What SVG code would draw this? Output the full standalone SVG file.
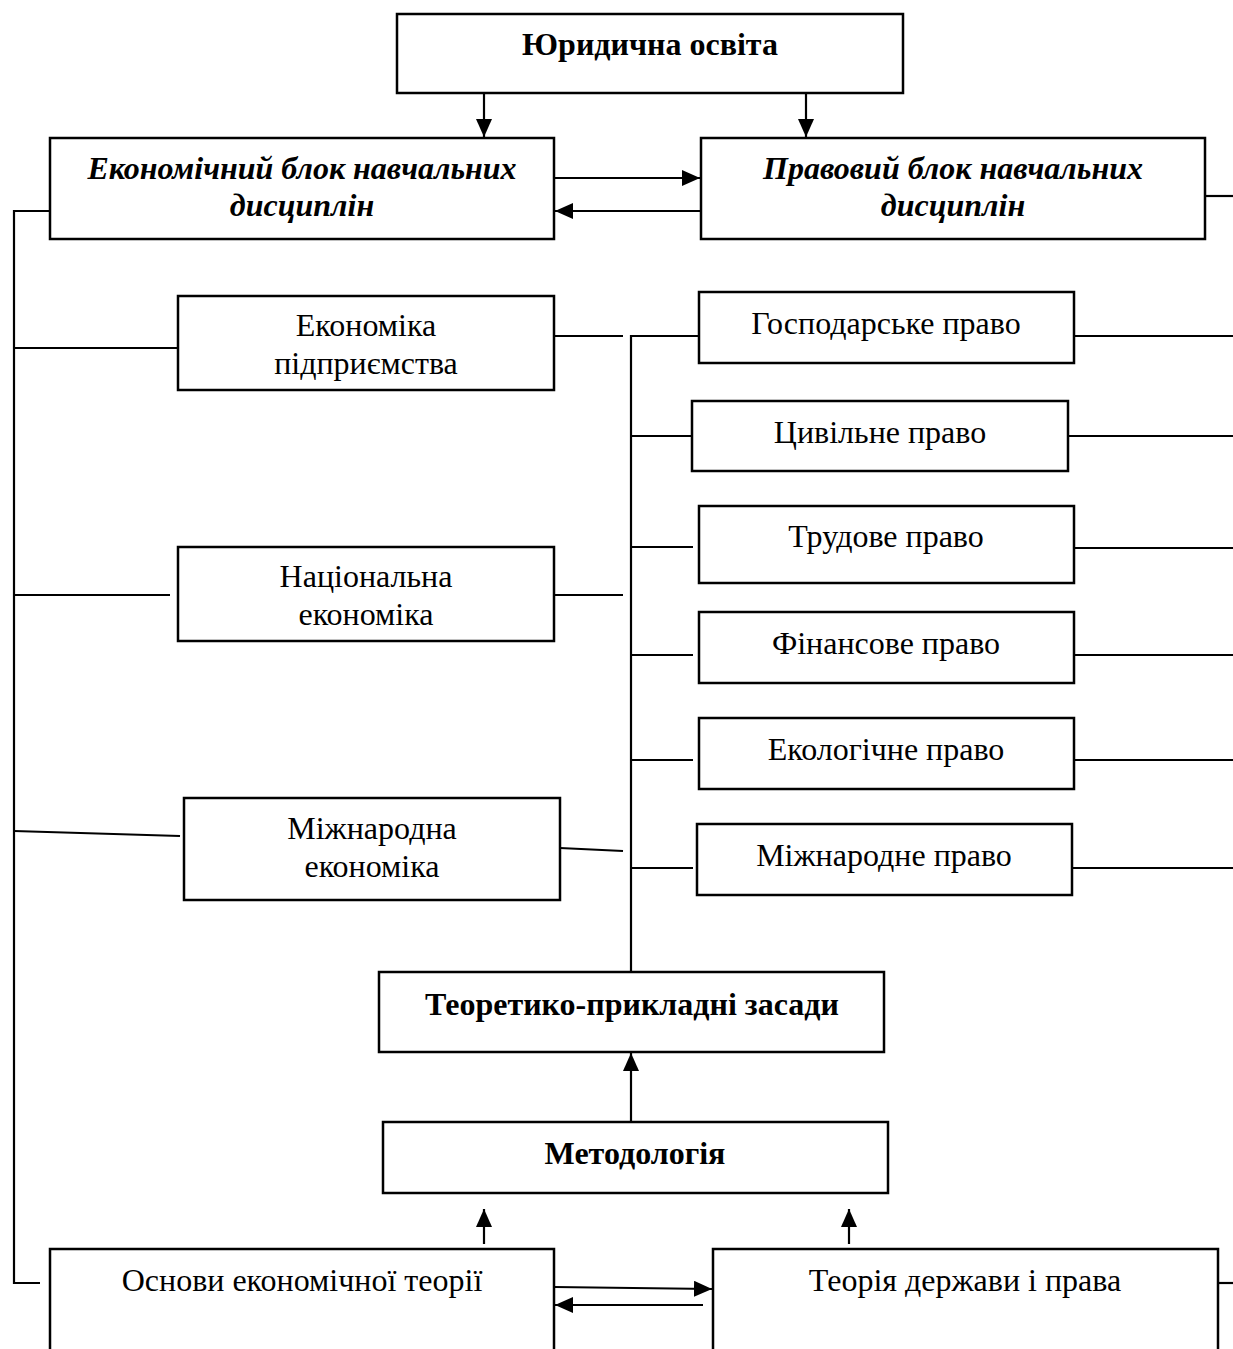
<svg xmlns="http://www.w3.org/2000/svg" width="1233" height="1349" viewBox="0 0 1233 1349">
<style>
.box{fill:#fff;stroke:#000;stroke-width:2.5}
.ln{fill:none;stroke:#000;stroke-width:2.2}
.t{font-family:"Liberation Serif","Times New Roman",serif;font-size:32px;text-anchor:middle;fill:#000}
.b{font-weight:bold}
.bi{font-weight:bold;font-style:italic}
</style>
<defs>
<marker id="ahL" markerWidth="18" markerHeight="16" refX="18" refY="8" orient="auto" markerUnits="userSpaceOnUse" viewBox="0 0 18 16">
<path d="M0,0 L18,8 L0,16 z" fill="#000"/>
</marker>
</defs>
<rect width="1233" height="1349" fill="#fff"/>
<g id="connectors">
<line class="ln" x1="484" y1="93" x2="484" y2="137" marker-end="url(#ahL)"/>
<line class="ln" x1="806" y1="93" x2="806" y2="137" marker-end="url(#ahL)"/>
<line class="ln" x1="554" y1="178" x2="700" y2="178" marker-end="url(#ahL)"/>
<line class="ln" x1="701" y1="211" x2="555" y2="211" marker-end="url(#ahL)"/>
<line class="ln" x1="1205" y1="196" x2="1233" y2="196"/>
<polyline class="ln" points="50,211 14,211 14,1283 40,1283"/>
<line class="ln" x1="14" y1="348" x2="178" y2="348"/>
<line class="ln" x1="14" y1="595" x2="170" y2="595"/>
<line class="ln" x1="14" y1="831" x2="180" y2="836"/>
<line class="ln" x1="554" y1="336" x2="623" y2="336"/>
<line class="ln" x1="554" y1="595" x2="623" y2="595"/>
<line class="ln" x1="560" y1="848" x2="623" y2="851"/>
<polyline class="ln" points="701,336 631,336 631,972"/>
<line class="ln" x1="631" y1="436" x2="692" y2="436"/>
<line class="ln" x1="631" y1="547" x2="693" y2="547"/>
<line class="ln" x1="631" y1="655" x2="693" y2="655"/>
<line class="ln" x1="631" y1="760" x2="693" y2="760"/>
<line class="ln" x1="631" y1="868" x2="693" y2="868"/>
<line class="ln" x1="1074" y1="336" x2="1233" y2="336"/>
<line class="ln" x1="1068" y1="436" x2="1233" y2="436"/>
<line class="ln" x1="1074" y1="548" x2="1233" y2="548"/>
<line class="ln" x1="1074" y1="655" x2="1233" y2="655"/>
<line class="ln" x1="1074" y1="760" x2="1233" y2="760"/>
<line class="ln" x1="1072" y1="868" x2="1233" y2="868"/>
<line class="ln" x1="631" y1="1122" x2="631" y2="1053" marker-end="url(#ahL)"/>
<line class="ln" x1="484" y1="1244" x2="484" y2="1209" marker-end="url(#ahL)"/>
<line class="ln" x1="849" y1="1244" x2="849" y2="1209" marker-end="url(#ahL)"/>
<line class="ln" x1="554" y1="1287" x2="712" y2="1289" marker-end="url(#ahL)"/>
<line class="ln" x1="703" y1="1305" x2="555" y2="1305" marker-end="url(#ahL)"/>
<line class="ln" x1="1218" y1="1283" x2="1233" y2="1283"/>
</g>
<g id="n-yurydychna">
<rect class="box" x="397" y="14" width="506" height="79"/>
<text class="t b" x="650" y="55">Юридична освіта</text>
</g>
<g id="n-ekon-blok">
<rect class="box" x="50" y="138" width="504" height="101"/>
<text class="t bi" x="302" y="179">Економічний блок навчальних</text>
<text class="t bi" x="302" y="216">дисциплін</text>
</g>
<g id="n-prav-blok">
<rect class="box" x="701" y="138" width="504" height="101"/>
<text class="t bi" x="953" y="179">Правовий блок навчальних</text>
<text class="t bi" x="953" y="216">дисциплін</text>
</g>
<g id="n-ek-pidpr">
<rect class="box" x="178" y="296" width="376" height="94"/>
<text class="t" x="366" y="336">Економіка</text>
<text class="t" x="366" y="374">підприємства</text>
</g>
<g id="n-nats-ek">
<rect class="box" x="178" y="547" width="376" height="94"/>
<text class="t" x="366" y="587">Національна</text>
<text class="t" x="366" y="625">економіка</text>
</g>
<g id="n-mizhn-ek">
<rect class="box" x="184" y="798" width="376" height="102"/>
<text class="t" x="372" y="839">Міжнародна</text>
<text class="t" x="372" y="877">економіка</text>
</g>
<g id="n-hosp">
<rect class="box" x="699" y="292" width="375" height="71"/>
<text class="t" x="886" y="334">Господарське право</text>
</g>
<g id="n-tsyv">
<rect class="box" x="692" y="401" width="376" height="70"/>
<text class="t" x="880" y="443">Цивільне право</text>
</g>
<g id="n-trud">
<rect class="box" x="699" y="506" width="375" height="77"/>
<text class="t" x="886" y="547">Трудове право</text>
</g>
<g id="n-fin">
<rect class="box" x="699" y="612" width="375" height="71"/>
<text class="t" x="886" y="654">Фінансове право</text>
</g>
<g id="n-ekol">
<rect class="box" x="699" y="718" width="375" height="71"/>
<text class="t" x="886" y="760">Екологічне право</text>
</g>
<g id="n-mizhn-pr">
<rect class="box" x="697" y="824" width="375" height="71"/>
<text class="t" x="884" y="866">Міжнародне право</text>
</g>
<g id="n-teor">
<rect class="box" x="379" y="972" width="505" height="80"/>
<text class="t b" x="632" y="1015">Теоретико-прикладні засади</text>
</g>
<g id="n-metod">
<rect class="box" x="383" y="1122" width="505" height="71"/>
<text class="t b" x="635" y="1164">Методологія</text>
</g>
<g id="n-osnovy">
<rect class="box" x="50" y="1249" width="504" height="120"/>
<text class="t" x="302" y="1291">Основи економічної теорії</text>
</g>
<g id="n-teoriya">
<rect class="box" x="713" y="1249" width="505" height="120"/>
<text class="t" x="965" y="1291">Теорія держави і права</text>
</g>
</svg>
